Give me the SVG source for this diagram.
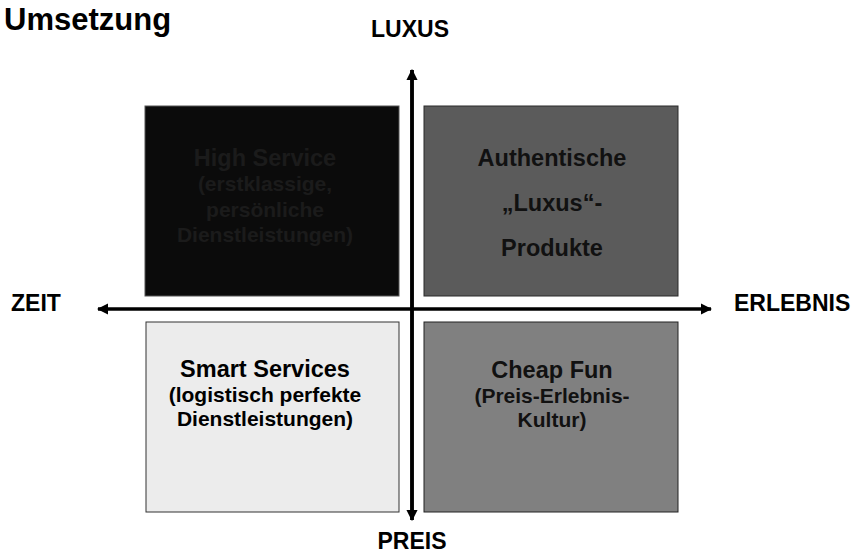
<svg xmlns="http://www.w3.org/2000/svg" width="856" height="553" viewBox="0 0 856 553">
<style>
text{font-family:"Liberation Sans",Arial,sans-serif;font-weight:bold;}
.lbl{font-size:23px;fill:#000;}
.t1{font-size:23.5px;text-anchor:middle;}
.t2{font-size:21px;text-anchor:middle;}
.ax{stroke:#000;stroke-width:3.5;fill:none;}
</style>
<defs>
<marker id="ah" viewBox="0 0 10 10" refX="9" refY="5" markerWidth="3.4" markerHeight="3.2" orient="auto" markerUnits="strokeWidth">
<path d="M0,0 L10,5 L0,10 Z" fill="#000"/>
</marker>
</defs>
<rect width="856" height="553" fill="#fff"/>
<text x="4" y="30" style="font-size:31px">Umsetzung</text>

<g id="node-high-service">
<rect x="145" y="106" width="254" height="190" fill="#0b0b0b" stroke="#555" stroke-width="1"/>
<text class="t1" x="265" y="166" fill="#1b1b1b">High Service</text>
<text class="t2" x="265" y="191" fill="#1b1b1b">(erstklassige,</text>
<text class="t2" x="265" y="217" fill="#1b1b1b">persönliche</text>
<text class="t2" x="265" y="242" fill="#1b1b1b">Dienstleistungen)</text>
</g>
<g id="node-luxus-produkte">
<rect x="424" y="106" width="254" height="190" fill="#5b5b5b" stroke="#2a2a2a" stroke-width="1"/>
<text class="t1" x="552" y="166" fill="#111">Authentische</text>
<text class="t1" x="552" y="211" fill="#111">„Luxus“-</text>
<text class="t1" x="552" y="256" fill="#111">Produkte</text>
</g>
<g id="node-smart-services">
<rect x="146" y="322" width="253" height="190" fill="#ececec" stroke="#333" stroke-width="1"/>
<text class="t1" x="265" y="377" fill="#000">Smart Services</text>
<text class="t2" x="265" y="402" fill="#000">(logistisch perfekte</text>
<text class="t2" x="265" y="426" fill="#000">Dienstleistungen)</text>
</g>
<g id="node-cheap-fun">
<rect x="424" y="322" width="254" height="190" fill="#808080" stroke="#222" stroke-width="1"/>
<text class="t1" x="552" y="378" fill="#111">Cheap Fun</text>
<text class="t2" x="552" y="403" fill="#111">(Preis-Erlebnis-</text>
<text class="t2" x="552" y="427" fill="#111">Kultur)</text>
</g>

<g id="connectors">
<line class="ax" x1="412" y1="520" x2="412" y2="70" marker-end="url(#ah)"/>
<line class="ax" x1="412" y1="70" x2="412" y2="520" marker-end="url(#ah)"/>
<line class="ax" x1="410" y1="309" x2="98" y2="309" marker-end="url(#ah)"/>
<line class="ax" x1="410" y1="309" x2="711" y2="309" marker-end="url(#ah)"/>
</g>

<g id="labels">
<text class="lbl" x="410" y="37" text-anchor="middle">LUXUS</text>
<text class="lbl" x="412" y="549" text-anchor="middle">PREIS</text>
<text class="lbl" x="11" y="311">ZEIT</text>
<text class="lbl" x="734" y="311">ERLEBNIS</text>
</g>
</svg>
